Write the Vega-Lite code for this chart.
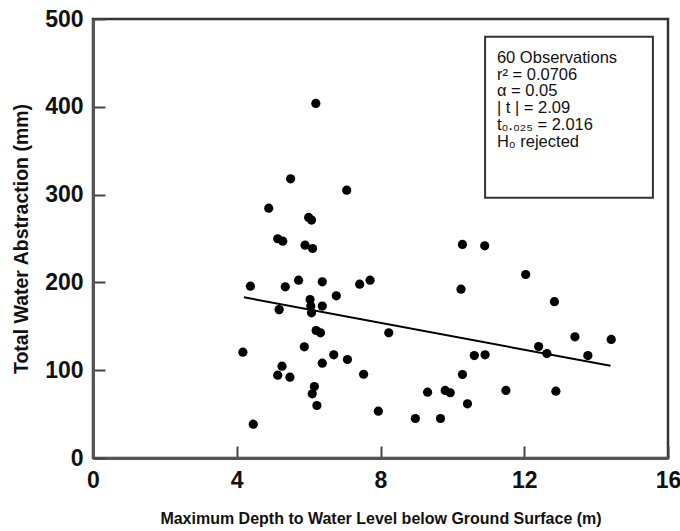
{
  "$schema": "https://vega.github.io/schema/vega-lite/v6.json",
  "width": 575,
  "height": 439,
  "autosize": {"type": "none"},
  "padding": {"left": 93, "top": 19, "right": 12, "bottom": 73},
  "background": "white",
  "config": {
    "view": {"stroke": "#333", "strokeWidth": 2.5},
    "font": "Liberation Sans",
    "axis": {
      "domainColor": "#555",
      "domainWidth": 3,
      "tickColor": "#444",
      "tickWidth": 2,
      "tickSize": -12,
      "labelFont": "Liberation Sans",
      "labelFontWeight": "bold",
      "labelFontSize": 23,
      "labelColor": "#111",
      "titleFont": "Liberation Sans",
      "titleFontWeight": "bold",
      "titleColor": "#111",
      "grid": false,
      "labelFlush": false,
      "labelOverlap": false
    }
  },
  "layer": [
    {
      "data": {"values": [{}]},
      "mark": {"type": "rect", "fill": "white", "stroke": "#333", "strokeWidth": 2},
      "encoding": {
        "x": {"datum": 10.91, "type": "quantitative"},
        "x2": {"datum": 15.58},
        "y": {"datum": 479.7, "type": "quantitative"},
        "y2": {"datum": 296.4}
      }
    },
    {
      "data": {"values": [{}]},
      "mark": {
        "type": "text",
        "align": "left",
        "baseline": "middle",
        "font": "Liberation Sans",
        "fontSize": 16.5,
        "lineHeight": 16.8,
        "color": "#111",
        "text": ["60 Observations", "r² = 0.0706", "α = 0.05", "| t | = 2.09", "t₀.₀₂₅ = 2.016", "H₀ rejected"]
      },
      "encoding": {
        "x": {"datum": 11.24, "type": "quantitative"},
        "y": {"datum": 455.9, "type": "quantitative"}
      }
    },
    {
      "data": {
        "values": [
          {"depth": 6.20, "abstraction": 403.8},
          {"depth": 5.50, "abstraction": 318},
          {"depth": 7.06, "abstraction": 305},
          {"depth": 4.89, "abstraction": 284.5},
          {"depth": 6.00, "abstraction": 274},
          {"depth": 6.08, "abstraction": 271},
          {"depth": 5.14, "abstraction": 249.7},
          {"depth": 5.28, "abstraction": 247},
          {"depth": 5.90, "abstraction": 242.4},
          {"depth": 6.11, "abstraction": 238.6},
          {"depth": 4.38, "abstraction": 195.7},
          {"depth": 5.35, "abstraction": 195},
          {"depth": 5.72, "abstraction": 202.5},
          {"depth": 6.38, "abstraction": 200.7},
          {"depth": 7.42, "abstraction": 198},
          {"depth": 7.71, "abstraction": 202.5},
          {"depth": 6.77, "abstraction": 184.7},
          {"depth": 6.04, "abstraction": 180.5},
          {"depth": 5.18, "abstraction": 169},
          {"depth": 6.06, "abstraction": 173},
          {"depth": 6.38, "abstraction": 173},
          {"depth": 6.08, "abstraction": 165.4},
          {"depth": 6.21, "abstraction": 145.2},
          {"depth": 6.33, "abstraction": 142.6},
          {"depth": 5.88, "abstraction": 126.6},
          {"depth": 4.17, "abstraction": 120.5},
          {"depth": 6.70, "abstraction": 117.5},
          {"depth": 7.08, "abstraction": 112.2},
          {"depth": 6.38, "abstraction": 108},
          {"depth": 5.26, "abstraction": 104.6},
          {"depth": 5.14, "abstraction": 94.3},
          {"depth": 5.48, "abstraction": 92},
          {"depth": 7.53, "abstraction": 95.4},
          {"depth": 6.16, "abstraction": 81.4},
          {"depth": 6.10, "abstraction": 73.1},
          {"depth": 6.23, "abstraction": 59.8},
          {"depth": 4.46, "abstraction": 38.5},
          {"depth": 7.94, "abstraction": 53.3},
          {"depth": 10.28, "abstraction": 243.2},
          {"depth": 10.90, "abstraction": 241.7},
          {"depth": 12.04, "abstraction": 209},
          {"depth": 10.24, "abstraction": 192.3},
          {"depth": 12.84, "abstraction": 178},
          {"depth": 8.23, "abstraction": 142.6},
          {"depth": 13.41, "abstraction": 138},
          {"depth": 14.42, "abstraction": 135},
          {"depth": 12.40, "abstraction": 127},
          {"depth": 12.63, "abstraction": 119},
          {"depth": 13.77, "abstraction": 116.7},
          {"depth": 10.61, "abstraction": 116.7},
          {"depth": 10.91, "abstraction": 117.5},
          {"depth": 10.28, "abstraction": 95.1},
          {"depth": 9.31, "abstraction": 75},
          {"depth": 9.80, "abstraction": 76.9},
          {"depth": 9.94, "abstraction": 74.3},
          {"depth": 11.49, "abstraction": 76.9},
          {"depth": 12.88, "abstraction": 76.1},
          {"depth": 10.42, "abstraction": 61.7},
          {"depth": 8.97, "abstraction": 45},
          {"depth": 9.67, "abstraction": 45}
        ]
      },
      "mark": {"type": "circle", "size": 85, "color": "black", "opacity": 1},
      "encoding": {
        "x": {
          "field": "depth",
          "type": "quantitative",
          "scale": {"domain": [0, 16], "nice": false, "zero": true},
          "axis": {
            "values": [0, 4, 8, 12, 16],
            "title": "Maximum Depth to Water Level below Ground Surface (m)",
            "titleFontSize": 16,
            "titlePadding": 18,
            "labelPadding": 23
          }
        },
        "y": {
          "field": "abstraction",
          "type": "quantitative",
          "scale": {"domain": [0, 500], "nice": false},
          "axis": {
            "values": [0, 100, 200, 300, 400, 500],
            "title": "Total Water Abstraction (mm)",
            "titleFontSize": 19.5,
            "titlePadding": 13,
            "labelPadding": 22
          }
        }
      }
    },
    {
      "data": {"values": [{"depth": 4.2, "abstraction": 183}, {"depth": 14.4, "abstraction": 105}]},
      "mark": {"type": "line", "color": "black", "strokeWidth": 2},
      "encoding": {
        "x": {"field": "depth", "type": "quantitative"},
        "y": {"field": "abstraction", "type": "quantitative"}
      }
    }
  ]
}
